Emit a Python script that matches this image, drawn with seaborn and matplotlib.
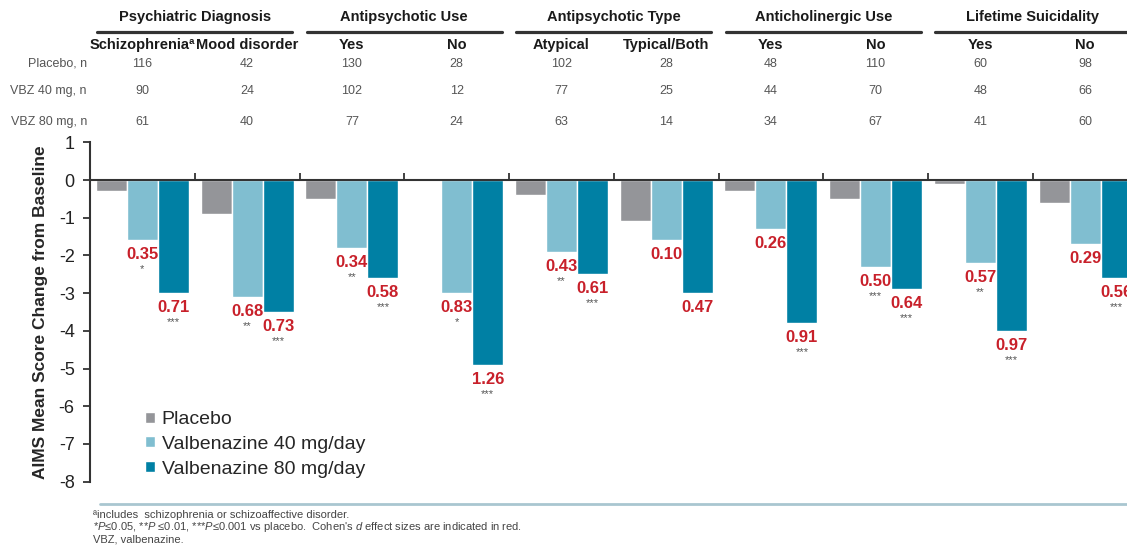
import matplotlib
matplotlib.use("Agg")
import matplotlib.pyplot as plt
import matplotlib.transforms as mtransforms
from matplotlib.lines import Line2D
import pandas as pd
import seaborn as sns

subgroups = ["Schizophrenia", "Mood disorder", "AP Yes", "AP No", "Atypical",
             "Typical/Both", "AC Yes", "AC No", "LS Yes", "LS No"]
col_labels = ["Schizophreniaª", "Mood disorder", "Yes", "No", "Atypical",
              "Typical/Both", "Yes", "No", "Yes", "No"]
headers = ["Psychiatric Diagnosis", "Antipsychotic Use", "Antipsychotic Type",
           "Anticholinergic Use", "Lifetime Suicidality"]
treatments = ["Placebo", "Valbenazine 40 mg/day", "Valbenazine 80 mg/day"]
row_labels = ["Placebo, n", "VBZ 40 mg, n", "VBZ 80 mg, n"]

placebo = [-0.3, -0.9, -0.5, 0.0, -0.4, -1.1, -0.3, -0.5, -0.1, -0.6]
vbz40 = [-1.6, -3.1, -1.8, -3.0, -1.9, -1.6, -1.3, -2.3, -2.2, -1.7]
vbz80 = [-3.0, -3.5, -2.6, -4.9, -2.5, -3.0, -3.8, -2.9, -4.0, -2.6]

n_placebo = [116, 42, 130, 28, 102, 28, 48, 110, 60, 98]
n_40 = [90, 24, 102, 12, 77, 25, 44, 70, 48, 66]
n_80 = [61, 40, 77, 24, 63, 14, 34, 67, 41, 60]

d_40 = ["0.35", "0.68", "0.34", "0.83", "0.43", "0.10", "0.26", "0.50", "0.57", "0.29"]
d_80 = ["0.71", "0.73", "0.58", "1.26", "0.61", "0.47", "0.91", "0.64", "0.97", "0.56"]
sig_40 = ["*", "**", "**", "*", "**", "", "", "***", "**", ""]
sig_80 = ["***", "***", "***", "***", "***", "", "***", "***", "***", "***"]

colors = ["#949599", "#80BED0", "#0080A4"]

df = pd.DataFrame({
    "subgroup": subgroups * 3,
    "treatment": [t for t in treatments for _ in subgroups],
    "change": placebo + vbz40 + vbz80,
})

sns.set_style("white")
plt.rcParams["font.family"] = ["Liberation Sans", "DejaVu Sans"]
plt.rcParams["axes.unicode_minus"] = False
plt.rcParams["mathtext.fontset"] = "custom"
plt.rcParams["mathtext.rm"] = "Liberation Sans"
plt.rcParams["mathtext.it"] = "Liberation Sans:italic"

W, H = 1127, 551
fig = plt.figure(figsize=(W / 100, H / 100), dpi=100)
ax_left, ax_right = 90, 1137.5
ax_top, ax_bottom = 142.3, 481.7
ax = fig.add_axes([ax_left / W, 1 - ax_bottom / H,
                   (ax_right - ax_left) / W, (ax_bottom - ax_top) / H])

sns.barplot(data=df, x="subgroup", y="change", hue="treatment",
            order=subgroups, hue_order=treatments, palette=colors,
            width=0.89, ax=ax, saturation=1, errorbar=None)

ax.set_xlim(-0.5, 9.5)
ax.set_ylim(-8, 1)
ax.set_yticks(range(-8, 2))
ax.set_xticks([i + 0.5 for i in range(-1, 10)])
ax.set_xticklabels([])
ax.set_xlabel("")
ax.set_ylabel("AIMS Mean Score Change from Baseline", fontsize=12.5,
              fontweight="bold", labelpad=8)
ax.tick_params(axis="y", labelsize=13, length=5, width=1.3, color="#333333",
               direction="out", pad=6, labelcolor="#222222", left=True)
ax.tick_params(axis="x", length=5, width=1.3, color="#333333", direction="in",
               bottom=True)
ax.spines["top"].set_visible(False)
ax.spines["right"].set_visible(False)
ax.spines["bottom"].set_position(("data", 0))
for s in ["left", "bottom"]:
    ax.spines[s].set_color("#333333")
    ax.spines[s].set_linewidth(1.5)

# effect sizes and significance
for cont, dvals, sigs in [(ax.containers[1], d_40, sig_40),
                          (ax.containers[2], d_80, sig_80)]:
    for bar, d, s in zip(cont, dvals, sigs):
        xc = bar.get_x() + bar.get_width() / 2
        yb = bar.get_y() + bar.get_height()
        ax.annotate(d, (xc, yb), xytext=(0, -10.5), textcoords="offset points",
                    ha="center", va="center", fontsize=12, fontweight="bold",
                    color="#C8202A")
        if s:
            ax.annotate(s, (xc, yb), xytext=(0, -21), textcoords="offset points",
                        ha="center", va="center", fontsize=8, color="#555555")

handles, labels = ax.get_legend_handles_labels()
ax.legend(handles, labels, loc="upper left",
          bbox_to_anchor=(145 / W, 1 - 411 / H), bbox_transform=fig.transFigure,
          frameon=False, fontsize=14, handlelength=0.5, handleheight=0.5,
          handletextpad=0.35, labelspacing=0.4, borderpad=0, borderaxespad=0)

# table above the chart
trans = mtransforms.blended_transform_factory(ax.transData, fig.transFigure)
for k, h in enumerate(headers):
    ax.text(2 * k + 0.5, 1 - 17 / H, h, transform=trans, ha="center", va="center",
            fontsize=10.5, fontweight="bold", color="#1a1a1a", clip_on=False)
    fig.add_artist(Line2D([2 * k - 0.43, 2 * k + 1.43], [1 - 32 / H] * 2,
                          transform=trans, color="#333333", lw=2.3))
for i, lab in enumerate(col_labels):
    ax.text(i, 1 - 45 / H, lab, transform=trans, ha="center", va="center",
            fontsize=10.5, fontweight="bold", color="#1a1a1a", clip_on=False)
row_y = [64, 91, 122]
for r, (lab, vals) in enumerate(zip(row_labels, [n_placebo, n_40, n_80])):
    fig.text(87 / W, 1 - row_y[r] / H, lab, ha="right", va="center",
             fontsize=9, color="#555555")
    for i, v in enumerate(vals):
        ax.text(i, 1 - row_y[r] / H, str(v), transform=trans, ha="center",
                va="center", fontsize=9, color="#555555", clip_on=False)

# footnotes
fig.add_artist(Line2D([100 / W, 1], [1 - 504 / H] * 2, color="#A9C6D0", lw=2))
notes = ["ªincludes  schizophrenia or schizoaffective disorder.",
         r"*$\it{P}$≤0.05, **$\it{P}$ ≤0.01, ***$\it{P}$≤0.001 vs placebo.  "
         r"Cohen's $\it{d}$ effect sizes are indicated in red.",
         "VBZ, valbenazine."]
for j, t in enumerate(notes):
    fig.text(93 / W, 1 - (515 + 12.5 * j) / H, t, ha="left", va="center",
             fontsize=8, color="#444444")

fig.savefig("out.png", dpi=100)
